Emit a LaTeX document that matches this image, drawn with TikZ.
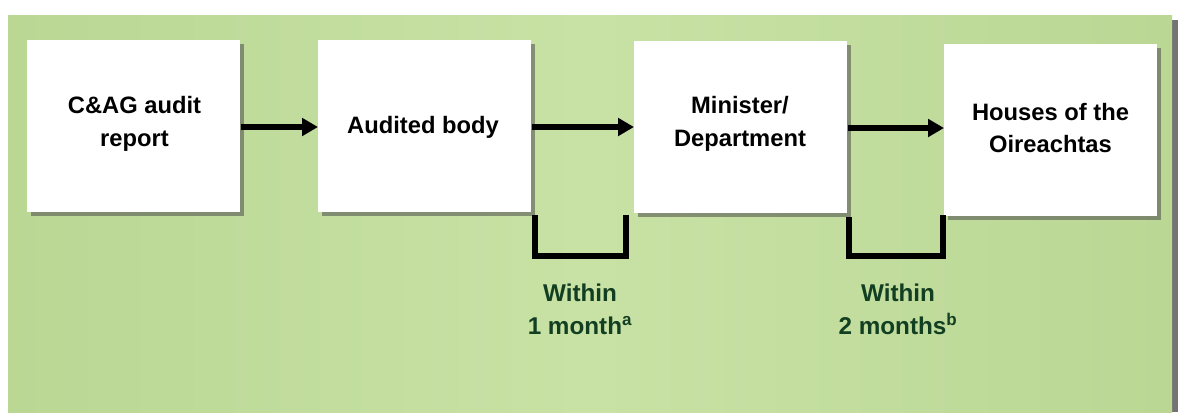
\documentclass[tikz,border=0pt]{standalone}
\usepackage{fontspec}
\setmainfont{Liberation Sans}
\usetikzlibrary{arrows.meta,shadows,fadings}
\definecolor{panelgreen}{RGB}{186,215,148}
\definecolor{panelgreenL}{RGB}{200,226,165}
\definecolor{labelgreen}{RGB}{18,62,34}
\begin{document}
\begin{tikzpicture}[x=0.75pt,y=-0.75pt,
  stagebox/.style={draw=none,fill=white,minimum width=213*0.75pt,minimum height=172*0.75pt,
    anchor=north west,inner sep=0pt,
    drop shadow={shadow xshift=2.5pt,shadow yshift=-2.5pt,opacity=0.55,fill=black!70}},
  stagetext/.style={font=\fontsize{17.8}{24.5}\selectfont\bfseries,align=center,text=black},
  flow/.style={line width=4.5pt,-{Triangle[length=12pt,width=13pt]}},
  bracket/.style={line width=4.2pt,line cap=butt,line join=miter},
  period/.style={font=\fontsize{18.2}{24.5}\selectfont\bfseries,align=center,text=labelgreen}]
\useasboundingbox (0,0) rectangle (1181,412);
\fill[white] (0,0) rectangle (1181,412);
% panel shadow
\fill[black!55] (1172,20) rectangle (1178,412);
\shade[left color=panelgreen,right color=panelgreenL] (8,15) rectangle (590,412);
\shade[left color=panelgreenL,right color=panelgreen] (590,15) rectangle (1172,412);
% boxes
\node[stagebox] (b1) at (27,40) {};
\node[stagebox] (b2) at (318,40) {};
\node[stagebox] (b3) at (634,41) {};
\node[stagebox] (b4) at (944,44) {};
\node[stagetext] (t1) at (134.5,124) {C\&AG audit\\report};
\node[stagetext] (t2) at (423,127) {Audited body};
\node[stagetext] (t3) at (740,124) {Minister/\\Department};
\node[stagetext] (t4) at (1050.5,128) {Houses of the\\Oireachtas};
% arrows
\draw[flow] (b1.east |- 0,127) -- (b2.west |- 0,127);
\draw[flow] (b2.east |- 0,127) -- (b3.west |- 0,127);
\draw[flow] (b3.east |- 0,128) -- (b4.west |- 0,128);
% brackets
\coordinate (k1a) at (535,215);
\coordinate (k1b) at (626,215);
\coordinate (k2a) at (849,217);
\coordinate (k2b) at (943,215);
\draw[bracket] (k1a) -- (535,256) -- (626,256) -- (k1b);
\draw[bracket] (k2a) -- (849,256) -- (943,256) -- (k2b);
\node[period] (p1) at (580,309) {Within\\1 month\textsuperscript{a}};
\node[period] (p2) at (898,309) {Within\\2 months\textsuperscript{b}};
\end{tikzpicture}
\end{document}
